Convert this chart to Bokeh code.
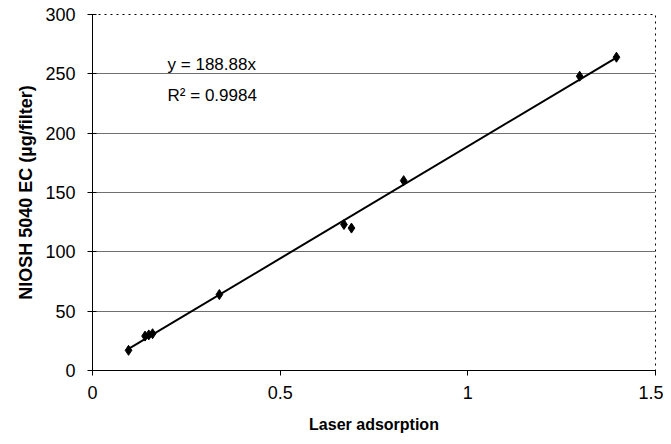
from bokeh.plotting import figure
from bokeh.models import Range1d, FixedTicker, Label
from bokeh.embed import file_html
from bokeh.resources import INLINE

laser = [0.096, 0.14, 0.15, 0.16, 0.338, 0.67, 0.69, 0.829, 1.298, 1.396]
niosh = [17, 29, 30, 31, 64, 123, 120, 160, 248, 264]
slope = 188.88
x_ticks = [0, 0.5, 1, 1.5]
y_ticks = [0, 50, 100, 150, 200, 250, 300]

p = figure(width=663, height=436, output_backend="svg", toolbar_location=None,
           x_range=Range1d(0, 1.5), y_range=Range1d(0, 300),
           min_border_left=92, min_border_right=8, min_border_top=14, min_border_bottom=66)

p.outline_line_color = "black"
p.outline_line_dash = "dotted"
p.outline_line_width = 1

fit_x = [min(laser), max(laser)]
fit_y = [slope * v for v in fit_x]
p.line(fit_x, fit_y, line_color="black", line_width=2)
p.scatter(laser, niosh, marker="diamond", size=10, color="black")

p.xgrid.visible = False
p.ygrid.grid_line_color = "#707070"
p.ygrid.grid_line_width = 1.2
p.ygrid.ticker = FixedTicker(ticks=y_ticks)

p.xaxis.ticker = FixedTicker(ticks=x_ticks)
p.yaxis.ticker = FixedTicker(ticks=y_ticks)
p.xaxis.major_label_overrides = {0: "0", 0.5: "0.5", 1: "1", 1.5: "1.5"}
for ax in (p.xaxis, p.yaxis):
    ax.axis_line_color = "black"
    ax.major_tick_line_color = "black"
    ax.minor_tick_line_color = None
    ax.major_tick_out = 5
    ax.major_tick_in = 0
    ax.major_label_text_font = "Liberation Sans"
    ax.major_label_text_font_size = "18px"
    ax.major_label_text_color = "black"
    ax.axis_label_text_font = "Liberation Sans"
    ax.axis_label_text_font_style = "bold"
    ax.axis_label_text_font_size = "16px"
    ax.axis_label_text_color = "black"
p.yaxis.major_tick_in = 4
p.yaxis.axis_label_text_font_size = "18px"
p.xaxis.axis_label = "Laser adsorption"
p.yaxis.axis_label = "NIOSH 5040 EC (µg/filter)"
p.xaxis.major_label_standoff = 10
p.xaxis.axis_label_standoff = 14
p.yaxis.major_label_standoff = 12
p.yaxis.axis_label_standoff = 6

p.add_layout(Label(x=0.2, y=258, text="y = 188.88x", text_font="Liberation Sans",
                   text_font_size="17px", text_baseline="middle", text_color="black"))
p.add_layout(Label(x=0.2, y=232, text="R² = 0.9984", text_font="Liberation Sans",
                   text_font_size="17px", text_baseline="middle", text_color="black"))

open("out.html", "w").write(file_html(p, INLINE))
